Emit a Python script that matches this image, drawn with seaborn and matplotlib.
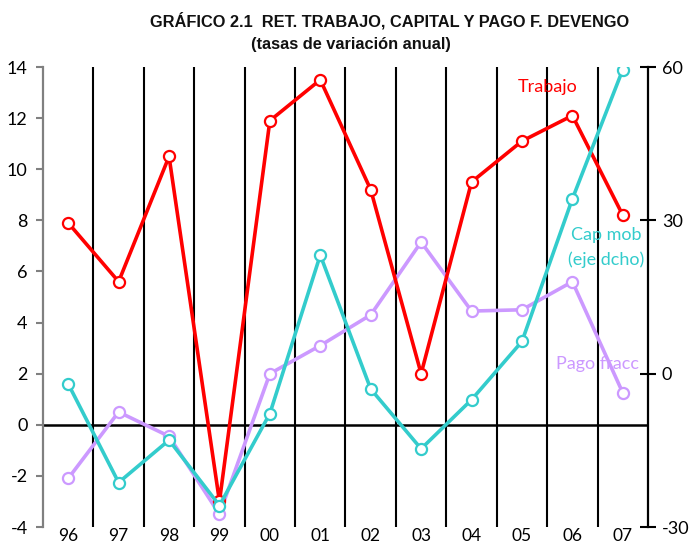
import matplotlib
matplotlib.use("Agg")
import matplotlib.pyplot as plt
import seaborn as sns
import pandas as pd
import numpy as np

years = ["96", "97", "98", "99", "00", "01", "02", "03", "04", "05", "06", "07"]
trabajo = [7.9, 5.6, 10.5, -3.0, 11.9, 13.5, 9.2, 2.0, 9.5, 11.1, 12.1, 8.2]
pago_fracc = [-2.1, 0.5, -0.45, -3.5, 2.0, 3.1, 4.3, 7.15, 4.45, 4.5, 5.6, 1.25]
cap_mob = [-2.0, -21.3, -13.0, -25.8, -7.8, 23.2, -3.0, -14.7, -5.1, 6.3, 34.2, 59.5]

left_ticks = [-4, -2, 0, 2, 4, 6, 8, 10, 12, 14]
right_ticks = [-30, 0, 30, 60]

RED = "#FF0000"
TEAL = "#33CCCC"
PURPLE = "#CC99FF"

sns.set_theme(style="white")
plt.rcParams["font.family"] = ["Lato", "DejaVu Sans"]

fig = plt.figure(figsize=(6.9, 5.45), dpi=100)
ax = fig.add_axes([43 / 690, 18 / 545, (648 - 43) / 690, (527 - 67) / 545])
ax2 = ax.twinx()

pos = list(range(len(years)))
df = pd.DataFrame({"pos": pos, "trabajo": trabajo, "pago": pago_fracc, "cap": cap_mob})

# grid separators and zero line
for xv in np.arange(0.5, len(years) - 1, 1.0):
    ax.axvline(xv, color="black", lw=1.5, zorder=1)
ax.axhline(0, color="black", lw=1.8, zorder=1)

mk = dict(marker="o", markersize=8, markerfacecolor="white", markeredgewidth=1.6, lw=2.6)
sns.lineplot(data=df, x="pos", y="pago", ax=ax, color=PURPLE, markeredgecolor=PURPLE, zorder=3, **mk)
sns.lineplot(data=df, x="pos", y="trabajo", ax=ax, color=RED, markeredgecolor=RED, zorder=4, **mk)
sns.lineplot(data=df, x="pos", y="cap", ax=ax2, color=TEAL, markeredgecolor=TEAL, zorder=5, **mk)

ax.set_xlim(-0.5, len(years) - 0.5)
ax.set_ylim(-4, 14)
ax2.set_ylim(-30, 60)
ax.set_xticks(pos)
ax.set_xticklabels(years)
ax.set_yticks(left_ticks)
ax.set_yticklabels([str(t) for t in left_ticks])
ax2.set_yticks(right_ticks)
ax2.set_yticklabels([str(t) for t in right_ticks])

ax.set_xlabel("")
ax.set_ylabel("")
ax2.set_ylabel("")

for a in (ax, ax2):
    for s in ("top", "bottom"):
        a.spines[s].set_visible(False)
ax.spines["right"].set_visible(False)
ax2.spines["left"].set_visible(False)
ax.spines["left"].set_color("#808080")
ax.spines["left"].set_linewidth(1.6)
ax2.spines["right"].set_color("black")
ax2.spines["right"].set_linewidth(1.6)

ax.tick_params(axis="x", length=0, pad=1, labelsize=12.5, colors="black")
ax.tick_params(axis="y", left=True, direction="out", length=5, width=1.5, color="#808080",
               pad=6, labelsize=13, labelcolor="black")
ax2.tick_params(axis="y", right=True, direction="inout", length=12, width=1.5, color="black",
                pad=4, labelsize=13, labelcolor="black")

# series labels
ax.text((548 - 43) / 605, (545 - 87 - 18) / 460, "Trabajo", transform=ax.transAxes,
        color=RED, fontsize=13, ha="center", va="center", zorder=6)
ax.text((606 - 43) / 605, (545 - 235 - 18) / 460, "Cap mob", transform=ax.transAxes,
        color=TEAL, fontsize=13, ha="center", va="center", zorder=2)
ax.text((606 - 43) / 605, (545 - 260 - 18) / 460, "(eje dcho)", transform=ax.transAxes,
        color=TEAL, fontsize=13, ha="center", va="center", zorder=2)
ax.text((597 - 43) / 605, (545 - 364 - 18) / 460, "Pago fracc", transform=ax.transAxes,
        color=PURPLE, fontsize=13, ha="center", va="center", zorder=2)

fig.text(390 / 690, 1 - 21 / 545, "GRÁFICO 2.1  RET. TRABAJO, CAPITAL Y PAGO F. DEVENGO",
         ha="center", va="center", fontsize=11.8, fontweight="bold", family=["Liberation Sans", "DejaVu Sans"],
         color="#111111")
fig.text(351 / 690, 1 - 44 / 545, "(tasas de variación anual)",
         ha="center", va="center", fontsize=11.8, fontweight="bold", family=["Liberation Sans", "DejaVu Sans"],
         color="#111111")

fig.savefig("out.png", dpi=100)
